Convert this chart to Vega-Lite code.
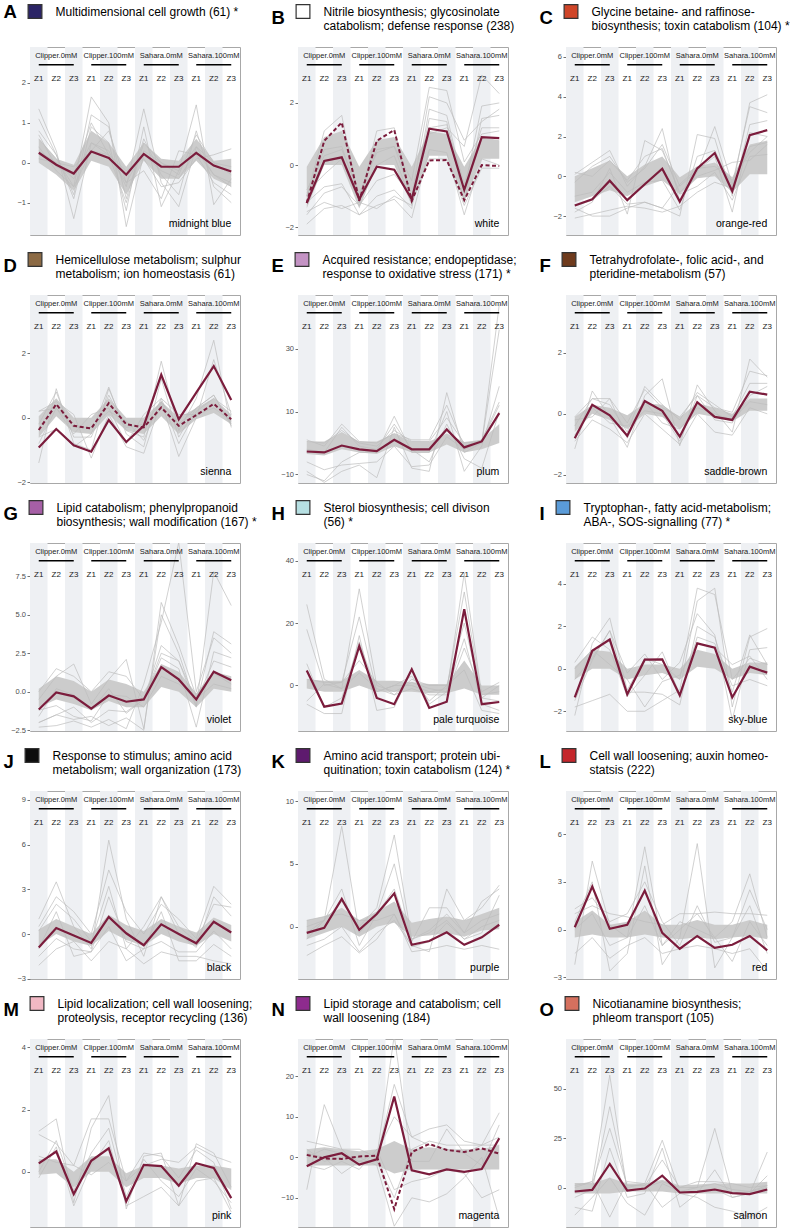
{
"$schema": "https://vega.github.io/schema/vega-lite/v6.json",
"background": "white",
"padding": {"left": 3, "top": 3, "right": 0, "bottom": 0},
"columns": 3,
"spacing": {"row": 60, "column": 58},
"bounds": "flush",
"resolve": {"scale": {"fill": "independent"}, "legend": {"fill": "independent"}},
"datasets": {
"stripes": [{"x":1},{"x":3},{"x":5},{"x":7},{"x":9},{"x":11}],
"grp": [{"g":"Clipper.0mM","c1":1,"c2":2,"c3":3},{"g":"Clipper.100mM","c1":4,"c2":5,"c3":6},{"g":"Sahara.0mM","c1":7,"c2":8,"c3":9},{"g":"Sahara.100mM","c1":10,"c2":11,"c3":12}],
"A": [
{"x":1,"m":0.25,"lo":0,"hi":0.6,"g1":1.35,"g2":0.6,"g3":0.3,"g4":0.8,"g5":0.1,"g6":1.1,"g7":0.4,"g8":0.7},
{"x":2,"m":-0.05,"lo":-0.3,"hi":0.1,"g1":0.3,"g2":0.1,"g3":0,"g4":0.2,"g5":0,"g6":0.2,"g7":-0.2,"g8":-0.1},
{"x":3,"m":-0.27,"lo":-0.7,"hi":-0.05,"g1":-1.4,"g2":-0.6,"g3":-0.4,"g4":-0.9,"g5":-0.1,"g6":-0.8,"g7":-0.6,"g8":-0.3},
{"x":4,"m":0.28,"lo":0.05,"hi":0.8,"g1":0.5,"g2":1.65,"g3":0.5,"g4":0.9,"g5":0.3,"g6":1.2,"g7":0.3,"g8":1.0},
{"x":5,"m":0.12,"lo":-0.1,"hi":0.5,"g1":0.2,"g2":1.0,"g3":0.3,"g4":0.5,"g5":0.2,"g6":0.9,"g7":0.8,"g8":0.2},
{"x":6,"m":-0.3,"lo":-0.8,"hi":-0.1,"g1":-0.5,"g2":-1.6,"g3":-0.6,"g4":-1.2,"g5":-0.2,"g6":-0.9,"g7":-0.5,"g8":-1.0},
{"x":7,"m":0.22,"lo":0.05,"hi":0.5,"g1":0.3,"g2":0.2,"g3":1.35,"g4":0.9,"g5":0.1,"g6":0.6,"g7":-0.2,"g8":0.5},
{"x":8,"m":-0.1,"lo":-0.4,"hi":0.1,"g1":0,"g2":-0.2,"g3":-0.5,"g4":-1.1,"g5":-0.6,"g6":-0.3,"g7":-0.9,"g8":0},
{"x":9,"m":-0.1,"lo":-0.4,"hi":0.05,"g1":-0.2,"g2":-0.4,"g3":-1.1,"g4":-0.2,"g5":-0.5,"g6":-0.8,"g7":0.3,"g8":-0.3},
{"x":10,"m":0.25,"lo":0.05,"hi":0.6,"g1":0.4,"g2":0.3,"g3":0.4,"g4":1.45,"g5":0.1,"g6":0.8,"g7":0.2,"g8":0.7},
{"x":11,"m":-0.07,"lo":-0.4,"hi":0.05,"g1":0,"g2":-0.3,"g3":-0.3,"g4":-1.05,"g5":0.2,"g6":-0.6,"g7":-0.5,"g8":0},
{"x":12,"m":-0.22,"lo":-0.6,"hi":0.1,"g1":-0.3,"g2":-0.5,"g3":-0.6,"g4":-0.4,"g5":0.35,"g6":-1.0,"g7":-0.8,"g8":-0.1}],
"B": [
{"x":1,"m":-1.22,"d":-1.22,"lo":-1.4,"hi":-0.05,"g1":-0.8,"g2":-1.0,"g3":-1.9,"g4":-1.5,"g5":-1.2,"g6":-1.0,"g7":-1.6,"g8":-0.9},
{"x":2,"m":0.13,"d":0.78,"lo":0,"hi":0.9,"g1":0.3,"g2":0.5,"g3":-1.4,"g4":-1.2,"g5":-0.7,"g6":1.1,"g7":-0.9,"g8":-0.3},
{"x":3,"m":0.25,"d":1.37,"lo":0,"hi":1.1,"g1":0.5,"g2":0.6,"g3":-1.3,"g4":-1.4,"g5":-0.6,"g6":1.6,"g7":-0.7,"g8":0.2},
{"x":4,"m":-1.1,"d":-1.15,"lo":-1.4,"hi":-0.05,"g1":-0.9,"g2":-1.0,"g3":-1.6,"g4":-1.2,"g5":-1.6,"g6":-1.2,"g7":-1.3,"g8":-1.2},
{"x":5,"m":-0.05,"d":0.78,"lo":0,"hi":0.8,"g1":0.4,"g2":0.5,"g3":-1.3,"g4":-1.4,"g5":-1.0,"g6":1.1,"g7":-0.5,"g8":0},
{"x":6,"m":-0.15,"d":1.13,"lo":0,"hi":0.9,"g1":0.6,"g2":0.6,"g3":-1.1,"g4":-1.0,"g5":-0.8,"g6":1.2,"g7":-0.3,"g8":0.3},
{"x":7,"m":-1.1,"d":-1.15,"lo":-1.3,"hi":-0.05,"g1":-0.5,"g2":-1.0,"g3":-1.7,"g4":-1.3,"g5":-1.4,"g6":-1.2,"g7":-1.0,"g8":-1.2},
{"x":8,"m":1.17,"d":0.15,"lo":0.3,"hi":1.1,"g1":2.5,"g2":1.0,"g3":0.5,"g4":1.5,"g5":1.8,"g6":0.2,"g7":2.2,"g8":1.2},
{"x":9,"m":1.08,"d":0.16,"lo":0.3,"hi":1.0,"g1":2.4,"g2":1.2,"g3":0.4,"g4":1.4,"g5":1.6,"g6":0.2,"g7":2.0,"g8":1.3},
{"x":10,"m":-0.8,"d":-1.13,"lo":-1.2,"hi":-0.05,"g1":0.1,"g2":0.6,"g3":-1.6,"g4":-1.2,"g5":-0.8,"g6":-1.3,"g7":0.8,"g8":-0.6},
{"x":11,"m":0.9,"d":0,"lo":0.2,"hi":0.9,"g1":1.0,"g2":2.9,"g3":0.2,"g4":1.5,"g5":1.9,"g6":-0.1,"g7":1.4,"g8":1.2},
{"x":12,"m":0.87,"d":-0.03,"lo":0.2,"hi":0.8,"g1":1.1,"g2":2.3,"g3":0,"g4":1.6,"g5":2.0,"g6":-0.1,"g7":1.8,"g8":1.2}],
"C": [
{"x":1,"m":-1.47,"lo":-1.3,"hi":0,"g1":-2.1,"g2":0.1,"g3":-1.6,"g4":-1.8,"g5":-0.3,"g6":-1.0,"g7":-1.5,"g8":0.2},
{"x":2,"m":-1.15,"lo":-1.0,"hi":0.4,"g1":-1.9,"g2":0.7,"g3":-2.0,"g4":-1.3,"g5":0.5,"g6":-0.8,"g7":-1.2,"g8":0},
{"x":3,"m":-0.22,"lo":-0.7,"hi":0.8,"g1":-1.7,"g2":1.3,"g3":-2.0,"g4":0.4,"g5":1.0,"g6":0.2,"g7":-0.5,"g8":0.8},
{"x":4,"m":-1.2,"lo":-1.0,"hi":0,"g1":-1.5,"g2":-0.5,"g3":-1.6,"g4":-1.9,"g5":-0.3,"g6":-0.8,"g7":-1.4,"g8":-0.2},
{"x":5,"m":-0.4,"lo":-0.5,"hi":0.6,"g1":-1.6,"g2":0.5,"g3":-1.3,"g4":1.8,"g5":0.4,"g6":-0.3,"g7":-1.3,"g8":1.0},
{"x":6,"m":0.38,"lo":-0.2,"hi":1.0,"g1":-1.8,"g2":2.4,"g3":-1.6,"g4":1.3,"g5":1.6,"g6":-0.2,"g7":-1.6,"g8":1.4},
{"x":7,"m":-1.27,"lo":-0.9,"hi":-0.05,"g1":-1.5,"g2":-1.3,"g3":-2.0,"g4":-0.8,"g5":-0.5,"g6":-1.7,"g7":-0.4,"g8":-0.9},
{"x":8,"m":0.4,"lo":-0.1,"hi":0.5,"g1":-0.8,"g2":0.2,"g3":2.1,"g4":0,"g5":0.3,"g6":1.0,"g7":0.4,"g8":-0.5},
{"x":9,"m":1.17,"lo":0,"hi":0.7,"g1":-0.3,"g2":2.5,"g3":1.9,"g4":0.3,"g5":1.0,"g6":1.3,"g7":0.5,"g8":0.2},
{"x":10,"m":-0.75,"lo":-0.8,"hi":-0.05,"g1":-0.6,"g2":-0.4,"g3":-1.0,"g4":0.7,"g5":-1.8,"g6":-0.5,"g7":-0.2,"g8":-1.2},
{"x":11,"m":2.07,"lo":0.1,"hi":1.6,"g1":3.7,"g2":3.5,"g3":2.6,"g4":0.8,"g5":2.2,"g6":1.5,"g7":1.2,"g8":1.0},
{"x":12,"m":2.32,"lo":0.1,"hi":1.8,"g1":4.1,"g2":3.2,"g3":2.8,"g4":1.6,"g5":2.0,"g6":1.7,"g7":2.0,"g8":1.1}],
"D": [
{"x":1,"m":-0.92,"d":-0.38,"lo":-0.6,"hi":0.05,"g1":-1.4,"g2":0.2,"g3":-0.6,"g4":0.2,"g5":-0.2,"g6":-0.8},
{"x":2,"m":-0.35,"d":0.42,"lo":0.05,"hi":0.6,"g1":0.9,"g2":0.5,"g3":-0.35,"g4":0.3,"g5":0.8,"g6":0.3},
{"x":3,"m":-0.85,"d":-0.25,"lo":-0.45,"hi":0,"g1":-0.8,"g2":0.1,"g3":-0.9,"g4":-0.5,"g5":-0.6,"g6":-0.3},
{"x":4,"m":-1.05,"d":-0.33,"lo":-0.5,"hi":0,"g1":-1.0,"g2":-1.25,"g3":-0.5,"g4":0.1,"g5":-0.6,"g6":-0.3},
{"x":5,"m":-0.07,"d":0.45,"lo":0.1,"hi":0.6,"g1":0.9,"g2":0.1,"g3":0.95,"g4":0.3,"g5":0.7,"g6":0.2},
{"x":6,"m":-0.75,"d":-0.2,"lo":-0.4,"hi":0,"g1":-0.4,"g2":-0.9,"g3":-0.5,"g4":-0.8,"g5":-0.3,"g6":-0.1},
{"x":7,"m":-0.25,"d":-0.3,"lo":-0.5,"hi":0,"g1":-0.6,"g2":-1.1,"g3":-0.9,"g4":0.1,"g5":-0.2,"g6":-0.7},
{"x":8,"m":1.33,"d":0.32,"lo":0.05,"hi":0.5,"g1":1.75,"g2":0.5,"g3":1.2,"g4":0.6,"g5":0.5,"g6":0.6},
{"x":9,"m":-0.05,"d":-0.25,"lo":-0.5,"hi":0,"g1":-0.4,"g2":-1.2,"g3":-0.6,"g4":-0.8,"g5":-0.2,"g6":0.1},
{"x":10,"m":0.78,"d":0.08,"lo":-0.05,"hi":0.3,"g1":0.6,"g2":0,"g3":0.3,"g4":0.2,"g5":0.3,"g6":0.1},
{"x":11,"m":1.6,"d":0.43,"lo":0.15,"hi":0.6,"g1":2.4,"g2":1.8,"g3":0.7,"g4":0.6,"g5":0.7,"g6":0.3},
{"x":12,"m":0.55,"d":-0.05,"lo":-0.2,"hi":0.1,"g1":-0.3,"g2":0.1,"g3":-0.2,"g4":0.2,"g5":-0.25,"g6":-0.1}],
"E": [
{"x":1,"m":-2.7,"lo":-3.5,"hi":0.5,"g1":-6,"g2":-9,"g3":-10,"g4":1,"g5":-2,"g6":0.5},
{"x":2,"m":-3.0,"lo":-4,"hi":0.5,"g1":-8.5,"g2":-12.5,"g3":-12,"g4":-1,"g5":-3,"g6":0},
{"x":3,"m":-0.8,"lo":-2,"hi":3.5,"g1":-7,"g2":-9,"g3":-6,"g4":6,"g5":5,"g6":4},
{"x":4,"m":-2.0,"lo":-3,"hi":0.5,"g1":-6.5,"g2":-7,"g3":-3,"g4":0.5,"g5":-1,"g6":0},
{"x":5,"m":-2.6,"lo":-3.5,"hi":0.5,"g1":-6,"g2":-11,"g3":-3,"g4":0,"g5":-2,"g6":-1},
{"x":6,"m":1.0,"lo":-1,"hi":3,"g1":-1,"g2":5,"g3":8.5,"g4":3,"g5":6,"g6":4},
{"x":7,"m":-2.0,"lo":-3,"hi":0.5,"g1":-7.5,"g2":-8,"g3":-3,"g4":1,"g5":-2,"g6":0.5},
{"x":8,"m":-2.0,"lo":-3,"hi":0.5,"g1":-7,"g2":-9,"g3":-3,"g4":1,"g5":-6,"g6":0.5},
{"x":9,"m":4.3,"lo":-0.5,"hi":3,"g1":2,"g2":16,"g3":10,"g4":12,"g5":6,"g6":8},
{"x":10,"m":-1.4,"lo":-3,"hi":0.3,"g1":-2,"g2":-3,"g3":-9,"g4":-1,"g5":-5,"g6":0},
{"x":11,"m":0.5,"lo":-2,"hi":1,"g1":0,"g2":0,"g3":-1,"g4":1,"g5":-8,"g6":0.5},
{"x":12,"m":9.5,"lo":0,"hi":6,"g1":44,"g2":36,"g3":18,"g4":13,"g5":10,"g6":12}],
"F": [
{"x":1,"m":-0.8,"lo":-0.6,"hi":-0.1,"g1":-1.15,"g2":-0.1,"g3":-0.9,"g4":-0.4,"g5":-0.7,"g6":-0.2},
{"x":2,"m":0.3,"lo":0,"hi":0.3,"g1":0.75,"g2":0.5,"g3":-0.2,"g4":0.5,"g5":0.2,"g6":-0.1},
{"x":3,"m":-0.05,"lo":-0.2,"hi":0.2,"g1":-0.1,"g2":0.5,"g3":-0.5,"g4":0.3,"g5":-0.3,"g6":0.5},
{"x":4,"m":-0.72,"lo":-0.5,"hi":-0.05,"g1":-1.1,"g2":-0.3,"g3":-0.95,"g4":-0.6,"g5":-0.4,"g6":-0.8},
{"x":5,"m":0.42,"lo":0,"hi":0.35,"g1":0.6,"g2":0.8,"g3":0,"g4":0.9,"g5":0.1,"g6":0.4},
{"x":6,"m":0.1,"lo":-0.1,"hi":0.3,"g1":1.15,"g2":0.2,"g3":-0.5,"g4":0.3,"g5":0,"g6":-0.3},
{"x":7,"m":-0.75,"lo":-0.5,"hi":-0.1,"g1":-1.05,"g2":-0.1,"g3":-1.0,"g4":-0.2,"g5":-0.9,"g6":-0.5},
{"x":8,"m":0.38,"lo":0,"hi":0.35,"g1":0.95,"g2":0.6,"g3":0,"g4":0.7,"g5":0.6,"g6":0.2},
{"x":9,"m":-0.1,"lo":-0.1,"hi":0.2,"g1":0.1,"g2":0.2,"g3":-0.6,"g4":0.3,"g5":-0.2,"g6":0},
{"x":10,"m":-0.2,"lo":-0.25,"hi":0,"g1":-0.6,"g2":0.05,"g3":-0.7,"g4":-0.1,"g5":-0.3,"g6":-0.2},
{"x":11,"m":0.73,"lo":0.1,"hi":0.5,"g1":1.8,"g2":1.4,"g3":0.2,"g4":1.0,"g5":0.6,"g6":0.4},
{"x":12,"m":0.63,"lo":0.1,"hi":0.5,"g1":1.2,"g2":1.25,"g3":0,"g4":1.0,"g5":0.9,"g6":0.3}],
"G": [
{"x":1,"m":-1.15,"lo":-1.0,"hi":0.2,"g1":-2.0,"g2":-2.3,"g3":0,"g4":-0.5,"g5":-1.6,"g6":-1.2,"g7":-2.0},
{"x":2,"m":-0.05,"lo":-0.5,"hi":1.0,"g1":-1.5,"g2":-2.2,"g3":1.5,"g4":1.0,"g5":0.2,"g6":-0.9,"g7":-1.5},
{"x":3,"m":-0.3,"lo":-0.8,"hi":0.7,"g1":-1.8,"g2":-1.9,"g3":1.0,"g4":1.8,"g5":-0.2,"g6":-1.6,"g7":-1.0},
{"x":4,"m":-1.1,"lo":-1.2,"hi":0,"g1":-1.6,"g2":-2.3,"g3":0,"g4":-0.8,"g5":-1.2,"g6":-1.9,"g7":-2.0},
{"x":5,"m":-0.25,"lo":-0.6,"hi":0.8,"g1":-2.2,"g2":-1.8,"g3":1.3,"g4":0.8,"g5":0.2,"g6":-0.2,"g7":-1.2},
{"x":6,"m":-0.65,"lo":-1.0,"hi":0.5,"g1":-1.7,"g2":-2.4,"g3":1.0,"g4":2.1,"g5":-1.4,"g6":-0.3,"g7":-1.3},
{"x":7,"m":-0.5,"lo":-1.0,"hi":0,"g1":-2.5,"g2":0.5,"g3":-0.5,"g4":-2.4,"g5":-0.5,"g6":-1.0,"g7":-0.5},
{"x":8,"m":1.6,"lo":0.3,"hi":1.8,"g1":5.8,"g2":4.5,"g3":3.0,"g4":5.0,"g5":2.2,"g6":1.0,"g7":2.5},
{"x":9,"m":0.8,"lo":0,"hi":1.3,"g1":3.0,"g2":9.7,"g3":2.0,"g4":2.5,"g5":1.5,"g6":0.5,"g7":2.0},
{"x":10,"m":-0.5,"lo":-1.0,"hi":-0.1,"g1":-0.3,"g2":0,"g3":-1.0,"g4":-0.9,"g5":-2.3,"g6":-0.5,"g7":-0.6},
{"x":11,"m":1.3,"lo":0.2,"hi":1.3,"g1":1.2,"g2":3.5,"g3":7.8,"g4":3.9,"g5":2.6,"g6":0.5,"g7":2.0},
{"x":12,"m":0.75,"lo":0,"hi":1.0,"g1":0.5,"g2":2.5,"g3":5.6,"g4":3.1,"g5":2.2,"g6":0.2,"g7":1.6}],
"H": [
{"x":1,"m":4.8,"lo":-1,"hi":2,"g1":26,"g2":18,"g3":-6,"g4":2,"g5":-5,"g6":7},
{"x":2,"m":-6.8,"lo":-2,"hi":1.5,"g1":2,"g2":0,"g3":-9,"g4":1,"g5":0.5,"g6":-7},
{"x":3,"m":-5.8,"lo":-2,"hi":1.5,"g1":-1,"g2":1,"g3":-9,"g4":1,"g5":-1,"g6":-4},
{"x":4,"m":12.6,"lo":0,"hi":5,"g1":31,"g2":22,"g3":16,"g4":8,"g5":4,"g6":14},
{"x":5,"m":-4.0,"lo":-2,"hi":1.5,"g1":0,"g2":-2,"g3":-8,"g4":1,"g5":-1,"g6":-2},
{"x":6,"m":-6.0,"lo":-2,"hi":1.5,"g1":-2,"g2":0,"g3":-7,"g4":-3,"g5":-3,"g6":0},
{"x":7,"m":5.2,"lo":-2,"hi":1,"g1":1,"g2":0,"g3":5,"g4":2,"g5":-1,"g6":3},
{"x":8,"m":-7.2,"lo":-2.5,"hi":0.5,"g1":-1,"g2":-2,"g3":-6,"g4":0,"g5":-3,"g6":-5},
{"x":9,"m":-5.2,"lo":-2.5,"hi":0.5,"g1":-2,"g2":-1,"g3":-2,"g4":0,"g5":-3,"g6":0},
{"x":10,"m":24.5,"lo":-1,"hi":8,"g1":36,"g2":30,"g3":15,"g4":5,"g5":12,"g6":20},
{"x":11,"m":-6.0,"lo":-3,"hi":0,"g1":-3,"g2":-4,"g3":-6,"g4":-8,"g5":-2,"g6":-4},
{"x":12,"m":-5.3,"lo":-3,"hi":0,"g1":-2,"g2":-5,"g3":-8,"g4":-9,"g5":1,"g6":0}],
"I": [
{"x":1,"m":-1.35,"lo":-0.5,"hi":0.1,"g1":-2.2,"g2":-1.8,"g3":-1.5,"g4":0.3,"g5":-0.5,"g6":0},
{"x":2,"m":0.85,"lo":0,"hi":0.9,"g1":1.2,"g2":-1.5,"g3":0.4,"g4":1.5,"g5":0.5,"g6":0.9},
{"x":3,"m":1.38,"lo":0,"hi":0.8,"g1":2.4,"g2":-1.2,"g3":1.8,"g4":0.9,"g5":1.8,"g6":0.2},
{"x":4,"m":-1.2,"lo":-0.5,"hi":0,"g1":-1.0,"g2":-2.0,"g3":-1.1,"g4":-1.3,"g5":-0.2,"g6":-0.5},
{"x":5,"m":0.43,"lo":-0.3,"hi":0.2,"g1":0.5,"g2":-2.0,"g3":-1.1,"g4":-0.3,"g5":0.7,"g6":-1.8},
{"x":6,"m":0.45,"lo":-0.2,"hi":0.2,"g1":0.2,"g2":-1.5,"g3":-1.2,"g4":0.8,"g5":-0.5,"g6":-0.6},
{"x":7,"m":-1.25,"lo":-0.5,"hi":0,"g1":-0.5,"g2":-1.0,"g3":-1.7,"g4":-1.2,"g5":0.3,"g6":-0.3},
{"x":8,"m":1.2,"lo":0.1,"hi":0.9,"g1":3.8,"g2":3.2,"g3":2.0,"g4":1.5,"g5":2.6,"g6":1.2},
{"x":9,"m":1.0,"lo":0,"hi":0.7,"g1":3.5,"g2":3.8,"g3":1.5,"g4":1.2,"g5":1.6,"g6":1.0},
{"x":10,"m":-1.35,"lo":-0.5,"hi":0,"g1":-0.5,"g2":-1.8,"g3":-1.1,"g4":-0.8,"g5":-2.4,"g6":0.2},
{"x":11,"m":0.1,"lo":-0.2,"hi":0.3,"g1":0.5,"g2":1.5,"g3":1.6,"g4":-0.5,"g5":0.9,"g6":0.6},
{"x":12,"m":-0.18,"lo":-0.3,"hi":0.3,"g1":0.2,"g2":1.9,"g3":0.2,"g4":-0.8,"g5":1.0,"g6":-0.5}],
"J": [
{"x":1,"m":-0.9,"lo":-0.8,"hi":0.3,"g1":1.0,"g2":0.5,"g3":-2.1,"g4":-1.0,"g5":0.2,"g6":-1.5},
{"x":2,"m":0.4,"lo":0,"hi":1.0,"g1":3.5,"g2":2.5,"g3":-1.0,"g4":1.5,"g5":2.0,"g6":-0.3},
{"x":3,"m":-0.1,"lo":-0.5,"hi":0.5,"g1":0.5,"g2":1.5,"g3":-0.5,"g4":-1.5,"g5":1.0,"g6":-1.0},
{"x":4,"m":-0.6,"lo":-0.8,"hi":0,"g1":-1.0,"g2":0,"g3":-1.8,"g4":-1.2,"g5":-0.5,"g6":-1.2},
{"x":5,"m":1.15,"lo":0.2,"hi":1.3,"g1":6.3,"g2":4.3,"g3":-0.5,"g4":2.5,"g5":3.2,"g6":0.5},
{"x":6,"m":0.05,"lo":-0.4,"hi":0.6,"g1":1.0,"g2":1.5,"g3":-1.0,"g4":-0.5,"g5":-1.0,"g6":-1.8},
{"x":7,"m":-0.75,"lo":-0.8,"hi":0.2,"g1":-1.5,"g2":0,"g3":-2.0,"g4":-1.0,"g5":0.5,"g6":-1.0},
{"x":8,"m":0.65,"lo":0,"hi":1.0,"g1":2.5,"g2":2.0,"g3":-1.2,"g4":1.5,"g5":2.5,"g6":-0.5},
{"x":9,"m":0,"lo":-0.5,"hi":0.5,"g1":0.5,"g2":1.0,"g3":-1.5,"g4":-1.8,"g5":0,"g6":-1.2},
{"x":10,"m":-0.62,"lo":-0.8,"hi":0.1,"g1":-0.5,"g2":-0.3,"g3":-1.5,"g4":-1.8,"g5":-0.9,"g6":-1.2},
{"x":11,"m":0.82,"lo":0,"hi":1.1,"g1":2.0,"g2":3.2,"g3":-1.8,"g4":-0.7,"g5":2.5,"g6":0.2},
{"x":12,"m":0.1,"lo":-0.5,"hi":0.6,"g1":1.8,"g2":2.0,"g3":-2.0,"g4":-1.5,"g5":1.2,"g6":-1.0}],
"K": [
{"x":1,"m":-0.5,"lo":-1.0,"hi":0.5,"g1":0,"g2":-0.5,"g3":-1.5,"g4":-2.3,"g5":-1.0,"g6":0.5},
{"x":2,"m":-0.1,"lo":-0.5,"hi":0.8,"g1":0.5,"g2":0.5,"g3":-1.0,"g4":-1.5,"g5":0.5,"g6":0.8},
{"x":3,"m":2.2,"lo":0,"hi":1.5,"g1":8.0,"g2":2.0,"g3":0,"g4":-0.8,"g5":3.0,"g6":1.0},
{"x":4,"m":-0.25,"lo":-0.8,"hi":0.5,"g1":-0.5,"g2":0,"g3":-2.0,"g4":-2.1,"g5":-1.5,"g6":0.5},
{"x":5,"m":1.0,"lo":0,"hi":1.2,"g1":1.0,"g2":1.5,"g3":-0.5,"g4":-1.0,"g5":1.0,"g6":0.5},
{"x":6,"m":2.65,"lo":0.3,"hi":2.0,"g1":3.0,"g2":7.3,"g3":0.5,"g4":1.0,"g5":5.0,"g6":1.0},
{"x":7,"m":-1.45,"lo":-0.8,"hi":0.3,"g1":-1.0,"g2":-1.0,"g3":-1.5,"g4":-2.0,"g5":-1.2,"g6":-1.6},
{"x":8,"m":-1.15,"lo":-0.7,"hi":0.6,"g1":-0.5,"g2":-0.3,"g3":-2.0,"g4":-1.8,"g5":1.5,"g6":-1.2},
{"x":9,"m":-0.45,"lo":-0.5,"hi":0.8,"g1":0.5,"g2":1.0,"g3":3.0,"g4":-1.5,"g5":1.5,"g6":0.3},
{"x":10,"m":-1.45,"lo":-0.8,"hi":0.5,"g1":-1.0,"g2":-0.5,"g3":0.5,"g4":-1.8,"g5":-0.5,"g6":-1.0},
{"x":11,"m":-0.85,"lo":-0.3,"hi":1.0,"g1":0,"g2":0.5,"g3":1.5,"g4":-1.5,"g5":2.0,"g6":-0.5},
{"x":12,"m":0.15,"lo":-0.2,"hi":1.5,"g1":0.5,"g2":1.0,"g3":3.3,"g4":-1.8,"g5":3.0,"g6":2.5}],
"L": [
{"x":1,"m":0.15,"lo":-0.5,"hi":0.5,"g1":-2.2,"g2":0.5,"g3":1.0,"g4":-1.5,"g5":1.3,"g6":0},
{"x":2,"m":2.7,"lo":-0.3,"hi":1.2,"g1":4.3,"g2":3.0,"g3":1.5,"g4":-0.5,"g5":2.0,"g6":1.0},
{"x":3,"m":0.05,"lo":-0.5,"hi":0.3,"g1":0.3,"g2":-2.6,"g3":1.0,"g4":-1.8,"g5":0.5,"g6":-1.0},
{"x":4,"m":0.3,"lo":-0.5,"hi":0.5,"g1":-0.5,"g2":-1.5,"g3":0.8,"g4":-1.0,"g5":1.0,"g6":-0.5},
{"x":5,"m":2.45,"lo":-0.3,"hi":1.2,"g1":5.2,"g2":4.0,"g3":0.5,"g4":-0.5,"g5":3.0,"g6":1.5},
{"x":6,"m":-0.2,"lo":-0.5,"hi":0.3,"g1":-1.0,"g2":-2.2,"g3":0.3,"g4":-1.5,"g5":0.5,"g6":-1.0},
{"x":7,"m":-1.2,"lo":-0.6,"hi":0.3,"g1":0,"g2":-0.5,"g3":1.0,"g4":-1.2,"g5":-1.0,"g6":0.5},
{"x":8,"m":-0.4,"lo":-0.5,"hi":0.6,"g1":1.0,"g2":5.4,"g3":1.0,"g4":-1.0,"g5":1.5,"g6":0},
{"x":9,"m":-1.15,"lo":-0.6,"hi":0.3,"g1":-0.5,"g2":-2.4,"g3":1.1,"g4":-1.2,"g5":-0.8,"g6":-0.5},
{"x":10,"m":-0.95,"lo":-0.5,"hi":0.3,"g1":0.5,"g2":-0.5,"g3":1.0,"g4":-1.5,"g5":-0.5,"g6":-2.0},
{"x":11,"m":-0.4,"lo":-0.4,"hi":0.6,"g1":3.5,"g2":1.5,"g3":1.0,"g4":-1.2,"g5":2.5,"g6":0.5},
{"x":12,"m":-1.3,"lo":-0.6,"hi":0.3,"g1":-0.5,"g2":-1.5,"g3":0.9,"g4":-2.6,"g5":0,"g6":-1.0}],
"M": [
{"x":1,"m":0.27,"lo":-0.1,"hi":0.4,"g1":1.3,"g2":1.2,"g3":-0.2,"g4":0.5,"g5":0},
{"x":2,"m":0.65,"lo":-0.05,"hi":0.4,"g1":1.7,"g2":0.9,"g3":0.8,"g4":0.3,"g5":1.0},
{"x":3,"m":-0.72,"lo":-0.5,"hi":0,"g1":-1.0,"g2":0.2,"g3":-1.1,"g4":0.2,"g5":-0.6},
{"x":4,"m":0.35,"lo":0,"hi":0.5,"g1":1.4,"g2":1.7,"g3":0.2,"g4":-0.1,"g5":0.6},
{"x":5,"m":0.75,"lo":0,"hi":0.5,"g1":2.45,"g2":1.7,"g3":1.0,"g4":0.3,"g5":1.4},
{"x":6,"m":-0.95,"lo":-0.5,"hi":-0.05,"g1":-1.2,"g2":-0.3,"g3":-1.1,"g4":-0.3,"g5":-0.8},
{"x":7,"m":0.22,"lo":-0.2,"hi":0.2,"g1":0.5,"g2":0.6,"g3":-0.8,"g4":0.2,"g5":0.4},
{"x":8,"m":0.18,"lo":-0.2,"hi":0.2,"g1":0.6,"g2":0.5,"g3":-0.5,"g4":0.4,"g5":-0.3},
{"x":9,"m":-0.45,"lo":-0.4,"hi":0.1,"g1":-1.1,"g2":-0.2,"g3":-1.1,"g4":0.3,"g5":-0.8},
{"x":10,"m":0.27,"lo":-0.2,"hi":0.2,"g1":0.9,"g2":0.7,"g3":-0.3,"g4":0.8,"g5":0.1},
{"x":11,"m":0.12,"lo":-0.2,"hi":0.2,"g1":0.6,"g2":0.3,"g3":-0.2,"g4":0.5,"g5":-0.3},
{"x":12,"m":-0.85,"lo":-0.6,"hi":0.1,"g1":-0.5,"g2":-1.2,"g3":-1.3,"g4":0.3,"g5":-1.0}],
"N": [
{"x":1,"m":-2.2,"d":0.6,"lo":-2,"hi":2,"g1":-8,"g2":4,"g3":2,"g4":-2,"g5":1,"g6":0},
{"x":2,"m":0,"d":-0.3,"lo":-2,"hi":2.5,"g1":13,"g2":3,"g3":-1,"g4":-3,"g5":0,"g6":2},
{"x":3,"m":1.0,"d":-0.4,"lo":-2,"hi":2,"g1":2,"g2":2,"g3":0,"g4":-1,"g5":-4,"g6":1},
{"x":4,"m":-1.8,"d":0.2,"lo":-2,"hi":1.5,"g1":-2,"g2":2,"g3":0,"g4":-3,"g5":-1,"g6":-1},
{"x":5,"m":-0.5,"d":0.4,"lo":-2,"hi":2,"g1":0,"g2":0,"g3":-2,"g4":2,"g5":1,"g6":-1},
{"x":6,"m":15.0,"d":-12.8,"lo":-4,"hi":4,"g1":18,"g2":30,"g3":-17,"g4":-8,"g5":10,"g6":-10},
{"x":7,"m":-3.2,"d":1.3,"lo":-3,"hi":2,"g1":5,"g2":-1,"g3":-10,"g4":-6,"g5":5,"g6":2},
{"x":8,"m":-4.2,"d":3.3,"lo":-3,"hi":2.5,"g1":3,"g2":-1,"g3":-11,"g4":-5,"g5":7,"g6":4},
{"x":9,"m":-3.0,"d":1.8,"lo":-3,"hi":2,"g1":2,"g2":7,"g3":-9,"g4":-3,"g5":8,"g6":3},
{"x":10,"m":-3.6,"d":1.3,"lo":-3,"hi":2,"g1":1,"g2":1,"g3":-5,"g4":-4,"g5":4,"g6":3},
{"x":11,"m":-2.9,"d":2.2,"lo":-3,"hi":2,"g1":3,"g2":-2,"g3":0,"g4":-10,"g5":3,"g6":3},
{"x":12,"m":4.7,"d":0.9,"lo":-3,"hi":3,"g1":11,"g2":8,"g3":-15,"g4":-8,"g5":5,"g6":3}],
"O": [
{"x":1,"m":-2.0,"lo":-3,"hi":2,"g1":0,"g2":-5,"g3":-10,"g4":1,"g5":-14,"g6":2},
{"x":2,"m":-1.2,"lo":-3,"hi":2,"g1":3,"g2":-1,"g3":-12,"g4":3,"g5":-5,"g6":2},
{"x":3,"m":12,"lo":-3,"hi":5,"g1":57,"g2":41,"g3":20,"g4":-15,"g5":5,"g6":30},
{"x":4,"m":-1.5,"lo":-2,"hi":2,"g1":-2,"g2":0,"g3":-5,"g4":3,"g5":-8,"g6":1},
{"x":5,"m":-0.5,"lo":-2,"hi":2,"g1":0,"g2":2,"g3":-3,"g4":2,"g5":-14,"g6":1},
{"x":6,"m":6,"lo":-2,"hi":4,"g1":3,"g2":24,"g3":20,"g4":-10,"g5":2,"g6":14},
{"x":7,"m":-2.5,"lo":-3,"hi":1,"g1":0,"g2":-2,"g3":-10,"g4":-3,"g5":-2,"g6":0},
{"x":8,"m":-2.2,"lo":-3,"hi":1.5,"g1":0,"g2":0,"g3":-3,"g4":-5,"g5":-2,"g6":3},
{"x":9,"m":-1.0,"lo":-3,"hi":2,"g1":2,"g2":30,"g3":9,"g4":-10,"g5":-1,"g6":3},
{"x":10,"m":-2.8,"lo":-3,"hi":2,"g1":-1,"g2":-3,"g3":-5,"g4":-12,"g5":-5,"g6":2},
{"x":11,"m":-3.3,"lo":-3,"hi":2,"g1":-2,"g2":-2,"g3":-3,"g4":-15,"g5":-3,"g6":0},
{"x":12,"m":-1.0,"lo":-3,"hi":3,"g1":1,"g2":0,"g3":18,"g4":-10,"g5":6,"g6":1}]
},
"concat": [
{"width":210,"height":188,"data":{"name":"A"},"layer":[
{"data":{"name":"stripes"},"mark":{"type":"rect","color":"#eef0f3"},"encoding":{"x":{"field":"x","type":"ordinal","title":null,"scale":{"domain":[1,2,3,4,5,6,7,8,9,10,11,12],"paddingInner":0,"paddingOuter":0},"axis":{"orient":"top","offset":-35,"labelExpr":"'Z' + ((datum.value - 1) % 3 + 1)"}}}},
{"mark":{"type":"area","color":"#cccccc"},"encoding":{"x":{"field":"x","type":"ordinal","title":null,"scale":{"domain":[1,2,3,4,5,6,7,8,9,10,11,12]}},"y":{"field":"lo","type":"quantitative","title":null,"scale":{"domain":[-1.81,2.9],"nice":false,"zero":false},"axis":{"values":[-1,0,1,2]}},"y2":{"field":"hi"}}},
{"transform":[{"fold":["g1","g2","g3","g4","g5","g6","g7","g8"]}],"mark":{"type":"line","color":"#bdbdbd","strokeWidth":0.7,"clip":true},"encoding":{"x":{"field":"x","type":"ordinal","title":null,"scale":{"domain":[1,2,3,4,5,6,7,8,9,10,11,12]}},"y":{"field":"value","type":"quantitative","title":null},"detail":{"field":"key","type":"nominal"}}},
{"mark":{"type":"line","color":"#7b1c3c","strokeWidth":2.2,"clip":true},"encoding":{"x":{"field":"x","type":"ordinal","title":null,"scale":{"domain":[1,2,3,4,5,6,7,8,9,10,11,12]}},"y":{"field":"m","type":"quantitative","title":null}}},
{"data":{"name":"grp"},"mark":{"type":"text","fontSize":7.5,"color":"#1a1a1a"},"encoding":{"x":{"field":"c2","type":"ordinal","title":null,"scale":{"domain":[1,2,3,4,5,6,7,8,9,10,11,12]}},"y":{"datum":2.686},"text":{"field":"g"}}},
{"data":{"name":"grp"},"mark":{"type":"rule","strokeWidth":1.6,"color":"#000000"},"encoding":{"x":{"field":"c1","type":"ordinal","title":null,"scale":{"domain":[1,2,3,4,5,6,7,8,9,10,11,12]}},"x2":{"field":"c3"},"y":{"datum":2.454}}},
{"data":{"values":[{"t":"midnight blue"}]},"mark":{"type":"text","fontSize":10.5,"align":"right","baseline":"alphabetic","dy":-8},"encoding":{"x":{"datum":12,"type":"ordinal","scale":{"domain":[1,2,3,4,5,6,7,8,9,10,11,12]}},"y":{"datum":-1.81},"text":{"field":"t"}}},
{"data":{"values":[{"t":"Multidimensional cell growth (61) *"}]},"mark":{"type":"square","opacity":0},"encoding":{"fill":{"field":"t","type":"nominal","scale":{"range":["#2b2466"]},"legend":{"title":"A","labelExpr":"split(datum.label, '|')","symbolOpacity":1,"symbolStrokeColor":"#333333","symbolStrokeWidth":1.2,"legendX":-26.5,"legendY":-43}}}}
]},
{"width":210,"height":188,"data":{"name":"B"},"layer":[
{"data":{"name":"stripes"},"mark":{"type":"rect","color":"#eef0f3"},"encoding":{"x":{"field":"x","type":"ordinal","title":null,"scale":{"domain":[1,2,3,4,5,6,7,8,9,10,11,12],"paddingInner":0,"paddingOuter":0},"axis":{"orient":"top","offset":-35,"labelExpr":"'Z' + ((datum.value - 1) % 3 + 1)"}}}},
{"mark":{"type":"area","color":"#cccccc"},"encoding":{"x":{"field":"x","type":"ordinal","title":null,"scale":{"domain":[1,2,3,4,5,6,7,8,9,10,11,12]}},"y":{"field":"lo","type":"quantitative","title":null,"scale":{"domain":[-2.25,3.8],"nice":false,"zero":false},"axis":{"values":[-2,0,2]}},"y2":{"field":"hi"}}},
{"transform":[{"fold":["g1","g2","g3","g4","g5","g6","g7","g8"]}],"mark":{"type":"line","color":"#bdbdbd","strokeWidth":0.7,"clip":true},"encoding":{"x":{"field":"x","type":"ordinal","title":null,"scale":{"domain":[1,2,3,4,5,6,7,8,9,10,11,12]}},"y":{"field":"value","type":"quantitative","title":null},"detail":{"field":"key","type":"nominal"}}},
{"mark":{"type":"line","color":"#7b1c3c","strokeWidth":2,"strokeDash":[4,2.5],"clip":true},"encoding":{"x":{"field":"x","type":"ordinal","title":null,"scale":{"domain":[1,2,3,4,5,6,7,8,9,10,11,12]}},"y":{"field":"d","type":"quantitative","title":null}}},
{"mark":{"type":"line","color":"#7b1c3c","strokeWidth":2.2,"clip":true},"encoding":{"x":{"field":"x","type":"ordinal","title":null,"scale":{"domain":[1,2,3,4,5,6,7,8,9,10,11,12]}},"y":{"field":"m","type":"quantitative","title":null}}},
{"data":{"name":"grp"},"mark":{"type":"text","fontSize":7.5,"color":"#1a1a1a"},"encoding":{"x":{"field":"c2","type":"ordinal","title":null,"scale":{"domain":[1,2,3,4,5,6,7,8,9,10,11,12]}},"y":{"datum":3.525},"text":{"field":"g"}}},
{"data":{"name":"grp"},"mark":{"type":"rule","strokeWidth":1.6,"color":"#000000"},"encoding":{"x":{"field":"c1","type":"ordinal","title":null,"scale":{"domain":[1,2,3,4,5,6,7,8,9,10,11,12]}},"x2":{"field":"c3"},"y":{"datum":3.227}}},
{"data":{"values":[{"t":"white"}]},"mark":{"type":"text","fontSize":10.5,"align":"right","baseline":"alphabetic","dy":-8},"encoding":{"x":{"datum":12,"type":"ordinal","scale":{"domain":[1,2,3,4,5,6,7,8,9,10,11,12]}},"y":{"datum":-2.25},"text":{"field":"t"}}},
{"data":{"values":[{"t":"Nitrile biosynthesis; glycosinolate|catabolism; defense response (238)"}]},"mark":{"type":"square","opacity":0},"encoding":{"fill":{"field":"t","type":"nominal","scale":{"range":["#ffffff"]},"legend":{"title":"B","labelExpr":"split(datum.label, '|')","symbolOpacity":1,"symbolStrokeColor":"#333333","symbolStrokeWidth":1.2,"legendX":-26.5,"legendY":-43}}}}
]},
{"width":210,"height":188,"data":{"name":"C"},"layer":[
{"data":{"name":"stripes"},"mark":{"type":"rect","color":"#eef0f3"},"encoding":{"x":{"field":"x","type":"ordinal","title":null,"scale":{"domain":[1,2,3,4,5,6,7,8,9,10,11,12],"paddingInner":0,"paddingOuter":0},"axis":{"orient":"top","offset":-35,"labelExpr":"'Z' + ((datum.value - 1) % 3 + 1)"}}}},
{"mark":{"type":"area","color":"#cccccc"},"encoding":{"x":{"field":"x","type":"ordinal","title":null,"scale":{"domain":[1,2,3,4,5,6,7,8,9,10,11,12]}},"y":{"field":"lo","type":"quantitative","title":null,"scale":{"domain":[-2.95,6.5],"nice":false,"zero":false},"axis":{"values":[-2,0,2,4,6]}},"y2":{"field":"hi"}}},
{"transform":[{"fold":["g1","g2","g3","g4","g5","g6","g7","g8"]}],"mark":{"type":"line","color":"#bdbdbd","strokeWidth":0.7,"clip":true},"encoding":{"x":{"field":"x","type":"ordinal","title":null,"scale":{"domain":[1,2,3,4,5,6,7,8,9,10,11,12]}},"y":{"field":"value","type":"quantitative","title":null},"detail":{"field":"key","type":"nominal"}}},
{"mark":{"type":"line","color":"#7b1c3c","strokeWidth":2.2,"clip":true},"encoding":{"x":{"field":"x","type":"ordinal","title":null,"scale":{"domain":[1,2,3,4,5,6,7,8,9,10,11,12]}},"y":{"field":"m","type":"quantitative","title":null}}},
{"data":{"name":"grp"},"mark":{"type":"text","fontSize":7.5,"color":"#1a1a1a"},"encoding":{"x":{"field":"c2","type":"ordinal","title":null,"scale":{"domain":[1,2,3,4,5,6,7,8,9,10,11,12]}},"y":{"datum":6.07},"text":{"field":"g"}}},
{"data":{"name":"grp"},"mark":{"type":"rule","strokeWidth":1.6,"color":"#000000"},"encoding":{"x":{"field":"c1","type":"ordinal","title":null,"scale":{"domain":[1,2,3,4,5,6,7,8,9,10,11,12]}},"x2":{"field":"c3"},"y":{"datum":5.606}}},
{"data":{"values":[{"t":"orange-red"}]},"mark":{"type":"text","fontSize":10.5,"align":"right","baseline":"alphabetic","dy":-8},"encoding":{"x":{"datum":12,"type":"ordinal","scale":{"domain":[1,2,3,4,5,6,7,8,9,10,11,12]}},"y":{"datum":-2.95},"text":{"field":"t"}}},
{"data":{"values":[{"t":"Glycine betaine- and raffinose-|biosynthesis; toxin catabolism (104) *"}]},"mark":{"type":"square","opacity":0},"encoding":{"fill":{"field":"t","type":"nominal","scale":{"range":["#cf4528"]},"legend":{"title":"C","labelExpr":"split(datum.label, '|')","symbolOpacity":1,"symbolStrokeColor":"#333333","symbolStrokeWidth":1.2,"legendX":-26.5,"legendY":-43}}}}
]},
{"width":210,"height":188,"data":{"name":"D"},"layer":[
{"data":{"name":"stripes"},"mark":{"type":"rect","color":"#eef0f3"},"encoding":{"x":{"field":"x","type":"ordinal","title":null,"scale":{"domain":[1,2,3,4,5,6,7,8,9,10,11,12],"paddingInner":0,"paddingOuter":0},"axis":{"orient":"top","offset":-35,"labelExpr":"'Z' + ((datum.value - 1) % 3 + 1)"}}}},
{"mark":{"type":"area","color":"#cccccc"},"encoding":{"x":{"field":"x","type":"ordinal","title":null,"scale":{"domain":[1,2,3,4,5,6,7,8,9,10,11,12]}},"y":{"field":"lo","type":"quantitative","title":null,"scale":{"domain":[-2.02,3.8],"nice":false,"zero":false},"axis":{"values":[-2,-1,0,1,2,3]}},"y2":{"field":"hi"}}},
{"transform":[{"fold":["g1","g2","g3","g4","g5","g6"]}],"mark":{"type":"line","color":"#bdbdbd","strokeWidth":0.7,"clip":true},"encoding":{"x":{"field":"x","type":"ordinal","title":null,"scale":{"domain":[1,2,3,4,5,6,7,8,9,10,11,12]}},"y":{"field":"value","type":"quantitative","title":null},"detail":{"field":"key","type":"nominal"}}},
{"mark":{"type":"line","color":"#7b1c3c","strokeWidth":2,"strokeDash":[4,2.5],"clip":true},"encoding":{"x":{"field":"x","type":"ordinal","title":null,"scale":{"domain":[1,2,3,4,5,6,7,8,9,10,11,12]}},"y":{"field":"d","type":"quantitative","title":null}}},
{"mark":{"type":"line","color":"#7b1c3c","strokeWidth":2.2,"clip":true},"encoding":{"x":{"field":"x","type":"ordinal","title":null,"scale":{"domain":[1,2,3,4,5,6,7,8,9,10,11,12]}},"y":{"field":"m","type":"quantitative","title":null}}},
{"data":{"name":"grp"},"mark":{"type":"text","fontSize":7.5,"color":"#1a1a1a"},"encoding":{"x":{"field":"c2","type":"ordinal","title":null,"scale":{"domain":[1,2,3,4,5,6,7,8,9,10,11,12]}},"y":{"datum":3.535},"text":{"field":"g"}}},
{"data":{"name":"grp"},"mark":{"type":"rule","strokeWidth":1.6,"color":"#000000"},"encoding":{"x":{"field":"c1","type":"ordinal","title":null,"scale":{"domain":[1,2,3,4,5,6,7,8,9,10,11,12]}},"x2":{"field":"c3"},"y":{"datum":3.249}}},
{"data":{"values":[{"t":"sienna"}]},"mark":{"type":"text","fontSize":10.5,"align":"right","baseline":"alphabetic","dy":-8},"encoding":{"x":{"datum":12,"type":"ordinal","scale":{"domain":[1,2,3,4,5,6,7,8,9,10,11,12]}},"y":{"datum":-2.02},"text":{"field":"t"}}},
{"data":{"values":[{"t":"Hemicellulose metabolism; sulphur|metabolism; ion homeostasis (61)"}]},"mark":{"type":"square","opacity":0},"encoding":{"fill":{"field":"t","type":"nominal","scale":{"range":["#8c6a44"]},"legend":{"title":"D","labelExpr":"split(datum.label, '|')","symbolOpacity":1,"symbolStrokeColor":"#333333","symbolStrokeWidth":1.2,"legendX":-26.5,"legendY":-43}}}}
]},
{"width":210,"height":188,"data":{"name":"E"},"layer":[
{"data":{"name":"stripes"},"mark":{"type":"rect","color":"#eef0f3"},"encoding":{"x":{"field":"x","type":"ordinal","title":null,"scale":{"domain":[1,2,3,4,5,6,7,8,9,10,11,12],"paddingInner":0,"paddingOuter":0},"axis":{"orient":"top","offset":-35,"labelExpr":"'Z' + ((datum.value - 1) % 3 + 1)"}}}},
{"mark":{"type":"area","color":"#cccccc"},"encoding":{"x":{"field":"x","type":"ordinal","title":null,"scale":{"domain":[1,2,3,4,5,6,7,8,9,10,11,12]}},"y":{"field":"lo","type":"quantitative","title":null,"scale":{"domain":[-12.7,47],"nice":false,"zero":false},"axis":{"values":[-10,0,10,20,30,40]}},"y2":{"field":"hi"}}},
{"transform":[{"fold":["g1","g2","g3","g4","g5","g6"]}],"mark":{"type":"line","color":"#bdbdbd","strokeWidth":0.7,"clip":true},"encoding":{"x":{"field":"x","type":"ordinal","title":null,"scale":{"domain":[1,2,3,4,5,6,7,8,9,10,11,12]}},"y":{"field":"value","type":"quantitative","title":null},"detail":{"field":"key","type":"nominal"}}},
{"mark":{"type":"line","color":"#7b1c3c","strokeWidth":2.2,"clip":true},"encoding":{"x":{"field":"x","type":"ordinal","title":null,"scale":{"domain":[1,2,3,4,5,6,7,8,9,10,11,12]}},"y":{"field":"m","type":"quantitative","title":null}}},
{"data":{"name":"grp"},"mark":{"type":"text","fontSize":7.5,"color":"#1a1a1a"},"encoding":{"x":{"field":"c2","type":"ordinal","title":null,"scale":{"domain":[1,2,3,4,5,6,7,8,9,10,11,12]}},"y":{"datum":44.29},"text":{"field":"g"}}},
{"data":{"name":"grp"},"mark":{"type":"rule","strokeWidth":1.6,"color":"#000000"},"encoding":{"x":{"field":"c1","type":"ordinal","title":null,"scale":{"domain":[1,2,3,4,5,6,7,8,9,10,11,12]}},"x2":{"field":"c3"},"y":{"datum":41.35}}},
{"data":{"values":[{"t":"plum"}]},"mark":{"type":"text","fontSize":10.5,"align":"right","baseline":"alphabetic","dy":-8},"encoding":{"x":{"datum":12,"type":"ordinal","scale":{"domain":[1,2,3,4,5,6,7,8,9,10,11,12]}},"y":{"datum":-12.7},"text":{"field":"t"}}},
{"data":{"values":[{"t":"Acquired resistance; endopeptidase;|response to oxidative stress (171) *"}]},"mark":{"type":"square","opacity":0},"encoding":{"fill":{"field":"t","type":"nominal","scale":{"range":["#c493c4"]},"legend":{"title":"E","labelExpr":"split(datum.label, '|')","symbolOpacity":1,"symbolStrokeColor":"#333333","symbolStrokeWidth":1.2,"legendX":-26.5,"legendY":-43}}}}
]},
{"width":210,"height":188,"data":{"name":"F"},"layer":[
{"data":{"name":"stripes"},"mark":{"type":"rect","color":"#eef0f3"},"encoding":{"x":{"field":"x","type":"ordinal","title":null,"scale":{"domain":[1,2,3,4,5,6,7,8,9,10,11,12],"paddingInner":0,"paddingOuter":0},"axis":{"orient":"top","offset":-35,"labelExpr":"'Z' + ((datum.value - 1) % 3 + 1)"}}}},
{"mark":{"type":"area","color":"#cccccc"},"encoding":{"x":{"field":"x","type":"ordinal","title":null,"scale":{"domain":[1,2,3,4,5,6,7,8,9,10,11,12]}},"y":{"field":"lo","type":"quantitative","title":null,"scale":{"domain":[-2.27,3.9],"nice":false,"zero":false},"axis":{"values":[-2,0,2]}},"y2":{"field":"hi"}}},
{"transform":[{"fold":["g1","g2","g3","g4","g5","g6"]}],"mark":{"type":"line","color":"#bdbdbd","strokeWidth":0.7,"clip":true},"encoding":{"x":{"field":"x","type":"ordinal","title":null,"scale":{"domain":[1,2,3,4,5,6,7,8,9,10,11,12]}},"y":{"field":"value","type":"quantitative","title":null},"detail":{"field":"key","type":"nominal"}}},
{"mark":{"type":"line","color":"#7b1c3c","strokeWidth":2.2,"clip":true},"encoding":{"x":{"field":"x","type":"ordinal","title":null,"scale":{"domain":[1,2,3,4,5,6,7,8,9,10,11,12]}},"y":{"field":"m","type":"quantitative","title":null}}},
{"data":{"name":"grp"},"mark":{"type":"text","fontSize":7.5,"color":"#1a1a1a"},"encoding":{"x":{"field":"c2","type":"ordinal","title":null,"scale":{"domain":[1,2,3,4,5,6,7,8,9,10,11,12]}},"y":{"datum":3.62},"text":{"field":"g"}}},
{"data":{"name":"grp"},"mark":{"type":"rule","strokeWidth":1.6,"color":"#000000"},"encoding":{"x":{"field":"c1","type":"ordinal","title":null,"scale":{"domain":[1,2,3,4,5,6,7,8,9,10,11,12]}},"x2":{"field":"c3"},"y":{"datum":3.316}}},
{"data":{"values":[{"t":"saddle-brown"}]},"mark":{"type":"text","fontSize":10.5,"align":"right","baseline":"alphabetic","dy":-8},"encoding":{"x":{"datum":12,"type":"ordinal","scale":{"domain":[1,2,3,4,5,6,7,8,9,10,11,12]}},"y":{"datum":-2.27},"text":{"field":"t"}}},
{"data":{"values":[{"t":"Tetrahydrofolate-, folic acid-, and|pteridine-metabolism (57)"}]},"mark":{"type":"square","opacity":0},"encoding":{"fill":{"field":"t","type":"nominal","scale":{"range":["#6f3b1d"]},"legend":{"title":"F","labelExpr":"split(datum.label, '|')","symbolOpacity":1,"symbolStrokeColor":"#333333","symbolStrokeWidth":1.2,"legendX":-26.5,"legendY":-43}}}}
]},
{"width":210,"height":188,"data":{"name":"G"},"layer":[
{"data":{"name":"stripes"},"mark":{"type":"rect","color":"#eef0f3"},"encoding":{"x":{"field":"x","type":"ordinal","title":null,"scale":{"domain":[1,2,3,4,5,6,7,8,9,10,11,12],"paddingInner":0,"paddingOuter":0},"axis":{"orient":"top","offset":-35,"labelExpr":"'Z' + ((datum.value - 1) % 3 + 1)"}}}},
{"mark":{"type":"area","color":"#cccccc"},"encoding":{"x":{"field":"x","type":"ordinal","title":null,"scale":{"domain":[1,2,3,4,5,6,7,8,9,10,11,12]}},"y":{"field":"lo","type":"quantitative","title":null,"scale":{"domain":[-2.55,9.66],"nice":false,"zero":false},"axis":{"values":[-2.5,0,2.5,5,7.5],"format":".1f"}},"y2":{"field":"hi"}}},
{"transform":[{"fold":["g1","g2","g3","g4","g5","g6","g7"]}],"mark":{"type":"line","color":"#bdbdbd","strokeWidth":0.7,"clip":true},"encoding":{"x":{"field":"x","type":"ordinal","title":null,"scale":{"domain":[1,2,3,4,5,6,7,8,9,10,11,12]}},"y":{"field":"value","type":"quantitative","title":null},"detail":{"field":"key","type":"nominal"}}},
{"mark":{"type":"line","color":"#7b1c3c","strokeWidth":2.2,"clip":true},"encoding":{"x":{"field":"x","type":"ordinal","title":null,"scale":{"domain":[1,2,3,4,5,6,7,8,9,10,11,12]}},"y":{"field":"m","type":"quantitative","title":null}}},
{"data":{"name":"grp"},"mark":{"type":"text","fontSize":7.5,"color":"#1a1a1a"},"encoding":{"x":{"field":"c2","type":"ordinal","title":null,"scale":{"domain":[1,2,3,4,5,6,7,8,9,10,11,12]}},"y":{"datum":9.105},"text":{"field":"g"}}},
{"data":{"name":"grp"},"mark":{"type":"rule","strokeWidth":1.6,"color":"#000000"},"encoding":{"x":{"field":"c1","type":"ordinal","title":null,"scale":{"domain":[1,2,3,4,5,6,7,8,9,10,11,12]}},"x2":{"field":"c3"},"y":{"datum":8.504}}},
{"data":{"values":[{"t":"violet"}]},"mark":{"type":"text","fontSize":10.5,"align":"right","baseline":"alphabetic","dy":-8},"encoding":{"x":{"datum":12,"type":"ordinal","scale":{"domain":[1,2,3,4,5,6,7,8,9,10,11,12]}},"y":{"datum":-2.55},"text":{"field":"t"}}},
{"data":{"values":[{"t":"Lipid catabolism; phenylpropanoid|biosynthesis; wall modification (167) *"}]},"mark":{"type":"square","opacity":0},"encoding":{"fill":{"field":"t","type":"nominal","scale":{"range":["#a65fa6"]},"legend":{"title":"G","labelExpr":"split(datum.label, '|')","symbolOpacity":1,"symbolStrokeColor":"#333333","symbolStrokeWidth":1.2,"legendX":-26.5,"legendY":-43}}}}
]},
{"width":210,"height":188,"data":{"name":"H"},"layer":[
{"data":{"name":"stripes"},"mark":{"type":"rect","color":"#eef0f3"},"encoding":{"x":{"field":"x","type":"ordinal","title":null,"scale":{"domain":[1,2,3,4,5,6,7,8,9,10,11,12],"paddingInner":0,"paddingOuter":0},"axis":{"orient":"top","offset":-35,"labelExpr":"'Z' + ((datum.value - 1) % 3 + 1)"}}}},
{"mark":{"type":"area","color":"#cccccc"},"encoding":{"x":{"field":"x","type":"ordinal","title":null,"scale":{"domain":[1,2,3,4,5,6,7,8,9,10,11,12]}},"y":{"field":"lo","type":"quantitative","title":null,"scale":{"domain":[-14.6,45.7],"nice":false,"zero":false},"axis":{"values":[0,20,40]}},"y2":{"field":"hi"}}},
{"transform":[{"fold":["g1","g2","g3","g4","g5","g6"]}],"mark":{"type":"line","color":"#bdbdbd","strokeWidth":0.7,"clip":true},"encoding":{"x":{"field":"x","type":"ordinal","title":null,"scale":{"domain":[1,2,3,4,5,6,7,8,9,10,11,12]}},"y":{"field":"value","type":"quantitative","title":null},"detail":{"field":"key","type":"nominal"}}},
{"mark":{"type":"line","color":"#7b1c3c","strokeWidth":2.2,"clip":true},"encoding":{"x":{"field":"x","type":"ordinal","title":null,"scale":{"domain":[1,2,3,4,5,6,7,8,9,10,11,12]}},"y":{"field":"m","type":"quantitative","title":null}}},
{"data":{"name":"grp"},"mark":{"type":"text","fontSize":7.5,"color":"#1a1a1a"},"encoding":{"x":{"field":"c2","type":"ordinal","title":null,"scale":{"domain":[1,2,3,4,5,6,7,8,9,10,11,12]}},"y":{"datum":42.96},"text":{"field":"g"}}},
{"data":{"name":"grp"},"mark":{"type":"rule","strokeWidth":1.6,"color":"#000000"},"encoding":{"x":{"field":"c1","type":"ordinal","title":null,"scale":{"domain":[1,2,3,4,5,6,7,8,9,10,11,12]}},"x2":{"field":"c3"},"y":{"datum":39.99}}},
{"data":{"values":[{"t":"pale turquoise"}]},"mark":{"type":"text","fontSize":10.5,"align":"right","baseline":"alphabetic","dy":-8},"encoding":{"x":{"datum":12,"type":"ordinal","scale":{"domain":[1,2,3,4,5,6,7,8,9,10,11,12]}},"y":{"datum":-14.6},"text":{"field":"t"}}},
{"data":{"values":[{"t":"Sterol biosynthesis; cell divison|(56) *"}]},"mark":{"type":"square","opacity":0},"encoding":{"fill":{"field":"t","type":"nominal","scale":{"range":["#b6dfe2"]},"legend":{"title":"H","labelExpr":"split(datum.label, '|')","symbolOpacity":1,"symbolStrokeColor":"#333333","symbolStrokeWidth":1.2,"legendX":-26.5,"legendY":-43}}}}
]},
{"width":210,"height":188,"data":{"name":"I"},"layer":[
{"data":{"name":"stripes"},"mark":{"type":"rect","color":"#eef0f3"},"encoding":{"x":{"field":"x","type":"ordinal","title":null,"scale":{"domain":[1,2,3,4,5,6,7,8,9,10,11,12],"paddingInner":0,"paddingOuter":0},"axis":{"orient":"top","offset":-35,"labelExpr":"'Z' + ((datum.value - 1) % 3 + 1)"}}}},
{"mark":{"type":"area","color":"#cccccc"},"encoding":{"x":{"field":"x","type":"ordinal","title":null,"scale":{"domain":[1,2,3,4,5,6,7,8,9,10,11,12]}},"y":{"field":"lo","type":"quantitative","title":null,"scale":{"domain":[-2.93,5.93],"nice":false,"zero":false},"axis":{"values":[-2,0,2,4]}},"y2":{"field":"hi"}}},
{"transform":[{"fold":["g1","g2","g3","g4","g5","g6"]}],"mark":{"type":"line","color":"#bdbdbd","strokeWidth":0.7,"clip":true},"encoding":{"x":{"field":"x","type":"ordinal","title":null,"scale":{"domain":[1,2,3,4,5,6,7,8,9,10,11,12]}},"y":{"field":"value","type":"quantitative","title":null},"detail":{"field":"key","type":"nominal"}}},
{"mark":{"type":"line","color":"#7b1c3c","strokeWidth":2.2,"clip":true},"encoding":{"x":{"field":"x","type":"ordinal","title":null,"scale":{"domain":[1,2,3,4,5,6,7,8,9,10,11,12]}},"y":{"field":"m","type":"quantitative","title":null}}},
{"data":{"name":"grp"},"mark":{"type":"text","fontSize":7.5,"color":"#1a1a1a"},"encoding":{"x":{"field":"c2","type":"ordinal","title":null,"scale":{"domain":[1,2,3,4,5,6,7,8,9,10,11,12]}},"y":{"datum":5.527},"text":{"field":"g"}}},
{"data":{"name":"grp"},"mark":{"type":"rule","strokeWidth":1.6,"color":"#000000"},"encoding":{"x":{"field":"c1","type":"ordinal","title":null,"scale":{"domain":[1,2,3,4,5,6,7,8,9,10,11,12]}},"x2":{"field":"c3"},"y":{"datum":5.091}}},
{"data":{"values":[{"t":"sky-blue"}]},"mark":{"type":"text","fontSize":10.5,"align":"right","baseline":"alphabetic","dy":-8},"encoding":{"x":{"datum":12,"type":"ordinal","scale":{"domain":[1,2,3,4,5,6,7,8,9,10,11,12]}},"y":{"datum":-2.93},"text":{"field":"t"}}},
{"data":{"values":[{"t":"Tryptophan-, fatty acid-metabolism;|ABA-, SOS-signalling (77) *"}]},"mark":{"type":"square","opacity":0},"encoding":{"fill":{"field":"t","type":"nominal","scale":{"range":["#5a9bd8"]},"legend":{"title":"I","labelExpr":"split(datum.label, '|')","symbolOpacity":1,"symbolStrokeColor":"#333333","symbolStrokeWidth":1.2,"legendX":-26.5,"legendY":-43}}}}
]},
{"width":210,"height":188,"data":{"name":"J"},"layer":[
{"data":{"name":"stripes"},"mark":{"type":"rect","color":"#eef0f3"},"encoding":{"x":{"field":"x","type":"ordinal","title":null,"scale":{"domain":[1,2,3,4,5,6,7,8,9,10,11,12],"paddingInner":0,"paddingOuter":0},"axis":{"orient":"top","offset":-35,"labelExpr":"'Z' + ((datum.value - 1) % 3 + 1)"}}}},
{"mark":{"type":"area","color":"#cccccc"},"encoding":{"x":{"field":"x","type":"ordinal","title":null,"scale":{"domain":[1,2,3,4,5,6,7,8,9,10,11,12]}},"y":{"field":"lo","type":"quantitative","title":null,"scale":{"domain":[-3.02,9.6],"nice":false,"zero":false},"axis":{"values":[-3,0,3,6,9]}},"y2":{"field":"hi"}}},
{"transform":[{"fold":["g1","g2","g3","g4","g5","g6"]}],"mark":{"type":"line","color":"#bdbdbd","strokeWidth":0.7,"clip":true},"encoding":{"x":{"field":"x","type":"ordinal","title":null,"scale":{"domain":[1,2,3,4,5,6,7,8,9,10,11,12]}},"y":{"field":"value","type":"quantitative","title":null},"detail":{"field":"key","type":"nominal"}}},
{"mark":{"type":"line","color":"#7b1c3c","strokeWidth":2.2,"clip":true},"encoding":{"x":{"field":"x","type":"ordinal","title":null,"scale":{"domain":[1,2,3,4,5,6,7,8,9,10,11,12]}},"y":{"field":"m","type":"quantitative","title":null}}},
{"data":{"name":"grp"},"mark":{"type":"text","fontSize":7.5,"color":"#1a1a1a"},"encoding":{"x":{"field":"c2","type":"ordinal","title":null,"scale":{"domain":[1,2,3,4,5,6,7,8,9,10,11,12]}},"y":{"datum":9.027},"text":{"field":"g"}}},
{"data":{"name":"grp"},"mark":{"type":"rule","strokeWidth":1.6,"color":"#000000"},"encoding":{"x":{"field":"c1","type":"ordinal","title":null,"scale":{"domain":[1,2,3,4,5,6,7,8,9,10,11,12]}},"x2":{"field":"c3"},"y":{"datum":8.407}}},
{"data":{"values":[{"t":"black"}]},"mark":{"type":"text","fontSize":10.5,"align":"right","baseline":"alphabetic","dy":-8},"encoding":{"x":{"datum":12,"type":"ordinal","scale":{"domain":[1,2,3,4,5,6,7,8,9,10,11,12]}},"y":{"datum":-3.02},"text":{"field":"t"}}},
{"data":{"values":[{"t":"Response to stimulus; amino acid|metabolism; wall organization (173)"}]},"mark":{"type":"square","opacity":0},"encoding":{"fill":{"field":"t","type":"nominal","scale":{"range":["#0d0d0d"]},"legend":{"title":"J","labelExpr":"split(datum.label, '|')","symbolOpacity":1,"symbolStrokeColor":"#333333","symbolStrokeWidth":1.2,"legendX":-26.5,"legendY":-43}}}}
]},
{"width":210,"height":188,"data":{"name":"K"},"layer":[
{"data":{"name":"stripes"},"mark":{"type":"rect","color":"#eef0f3"},"encoding":{"x":{"field":"x","type":"ordinal","title":null,"scale":{"domain":[1,2,3,4,5,6,7,8,9,10,11,12],"paddingInner":0,"paddingOuter":0},"axis":{"orient":"top","offset":-35,"labelExpr":"'Z' + ((datum.value - 1) % 3 + 1)"}}}},
{"mark":{"type":"area","color":"#cccccc"},"encoding":{"x":{"field":"x","type":"ordinal","title":null,"scale":{"domain":[1,2,3,4,5,6,7,8,9,10,11,12]}},"y":{"field":"lo","type":"quantitative","title":null,"scale":{"domain":[-4.17,10.8],"nice":false,"zero":false},"axis":{"values":[0,5,10]}},"y2":{"field":"hi"}}},
{"transform":[{"fold":["g1","g2","g3","g4","g5","g6"]}],"mark":{"type":"line","color":"#bdbdbd","strokeWidth":0.7,"clip":true},"encoding":{"x":{"field":"x","type":"ordinal","title":null,"scale":{"domain":[1,2,3,4,5,6,7,8,9,10,11,12]}},"y":{"field":"value","type":"quantitative","title":null},"detail":{"field":"key","type":"nominal"}}},
{"mark":{"type":"line","color":"#7b1c3c","strokeWidth":2.2,"clip":true},"encoding":{"x":{"field":"x","type":"ordinal","title":null,"scale":{"domain":[1,2,3,4,5,6,7,8,9,10,11,12]}},"y":{"field":"m","type":"quantitative","title":null}}},
{"data":{"name":"grp"},"mark":{"type":"text","fontSize":7.5,"color":"#1a1a1a"},"encoding":{"x":{"field":"c2","type":"ordinal","title":null,"scale":{"domain":[1,2,3,4,5,6,7,8,9,10,11,12]}},"y":{"datum":10.12},"text":{"field":"g"}}},
{"data":{"name":"grp"},"mark":{"type":"rule","strokeWidth":1.6,"color":"#000000"},"encoding":{"x":{"field":"c1","type":"ordinal","title":null,"scale":{"domain":[1,2,3,4,5,6,7,8,9,10,11,12]}},"x2":{"field":"c3"},"y":{"datum":9.383}}},
{"data":{"values":[{"t":"purple"}]},"mark":{"type":"text","fontSize":10.5,"align":"right","baseline":"alphabetic","dy":-8},"encoding":{"x":{"datum":12,"type":"ordinal","scale":{"domain":[1,2,3,4,5,6,7,8,9,10,11,12]}},"y":{"datum":-4.17},"text":{"field":"t"}}},
{"data":{"values":[{"t":"Amino acid transport; protein ubi-|quitination; toxin catabolism (124) *"}]},"mark":{"type":"square","opacity":0},"encoding":{"fill":{"field":"t","type":"nominal","scale":{"range":["#5e1a6e"]},"legend":{"title":"K","labelExpr":"split(datum.label, '|')","symbolOpacity":1,"symbolStrokeColor":"#333333","symbolStrokeWidth":1.2,"legendX":-26.5,"legendY":-43}}}}
]},
{"width":210,"height":188,"data":{"name":"L"},"layer":[
{"data":{"name":"stripes"},"mark":{"type":"rect","color":"#eef0f3"},"encoding":{"x":{"field":"x","type":"ordinal","title":null,"scale":{"domain":[1,2,3,4,5,6,7,8,9,10,11,12],"paddingInner":0,"paddingOuter":0},"axis":{"orient":"top","offset":-35,"labelExpr":"'Z' + ((datum.value - 1) % 3 + 1)"}}}},
{"mark":{"type":"area","color":"#cccccc"},"encoding":{"x":{"field":"x","type":"ordinal","title":null,"scale":{"domain":[1,2,3,4,5,6,7,8,9,10,11,12]}},"y":{"field":"lo","type":"quantitative","title":null,"scale":{"domain":[-3.1,8.7],"nice":false,"zero":false},"axis":{"values":[-3,0,3,6]}},"y2":{"field":"hi"}}},
{"transform":[{"fold":["g1","g2","g3","g4","g5","g6"]}],"mark":{"type":"line","color":"#bdbdbd","strokeWidth":0.7,"clip":true},"encoding":{"x":{"field":"x","type":"ordinal","title":null,"scale":{"domain":[1,2,3,4,5,6,7,8,9,10,11,12]}},"y":{"field":"value","type":"quantitative","title":null},"detail":{"field":"key","type":"nominal"}}},
{"mark":{"type":"line","color":"#7b1c3c","strokeWidth":2.2,"clip":true},"encoding":{"x":{"field":"x","type":"ordinal","title":null,"scale":{"domain":[1,2,3,4,5,6,7,8,9,10,11,12]}},"y":{"field":"m","type":"quantitative","title":null}}},
{"data":{"name":"grp"},"mark":{"type":"text","fontSize":7.5,"color":"#1a1a1a"},"encoding":{"x":{"field":"c2","type":"ordinal","title":null,"scale":{"domain":[1,2,3,4,5,6,7,8,9,10,11,12]}},"y":{"datum":8.164},"text":{"field":"g"}}},
{"data":{"name":"grp"},"mark":{"type":"rule","strokeWidth":1.6,"color":"#000000"},"encoding":{"x":{"field":"c1","type":"ordinal","title":null,"scale":{"domain":[1,2,3,4,5,6,7,8,9,10,11,12]}},"x2":{"field":"c3"},"y":{"datum":7.583}}},
{"data":{"values":[{"t":"red"}]},"mark":{"type":"text","fontSize":10.5,"align":"right","baseline":"alphabetic","dy":-8},"encoding":{"x":{"datum":12,"type":"ordinal","scale":{"domain":[1,2,3,4,5,6,7,8,9,10,11,12]}},"y":{"datum":-3.1},"text":{"field":"t"}}},
{"data":{"values":[{"t":"Cell wall loosening; auxin homeo-|statsis (222)"}]},"mark":{"type":"square","opacity":0},"encoding":{"fill":{"field":"t","type":"nominal","scale":{"range":["#c4262b"]},"legend":{"title":"L","labelExpr":"split(datum.label, '|')","symbolOpacity":1,"symbolStrokeColor":"#333333","symbolStrokeWidth":1.2,"legendX":-26.5,"legendY":-43}}}}
]},
{"width":210,"height":188,"data":{"name":"M"},"layer":[
{"data":{"name":"stripes"},"mark":{"type":"rect","color":"#eef0f3"},"encoding":{"x":{"field":"x","type":"ordinal","title":null,"scale":{"domain":[1,2,3,4,5,6,7,8,9,10,11,12],"paddingInner":0,"paddingOuter":0},"axis":{"orient":"top","offset":-35,"labelExpr":"'Z' + ((datum.value - 1) % 3 + 1)"}}}},
{"mark":{"type":"area","color":"#cccccc"},"encoding":{"x":{"field":"x","type":"ordinal","title":null,"scale":{"domain":[1,2,3,4,5,6,7,8,9,10,11,12]}},"y":{"field":"lo","type":"quantitative","title":null,"scale":{"domain":[-1.78,4.27],"nice":false,"zero":false},"axis":{"values":[0,2,4]}},"y2":{"field":"hi"}}},
{"transform":[{"fold":["g1","g2","g3","g4","g5"]}],"mark":{"type":"line","color":"#bdbdbd","strokeWidth":0.7,"clip":true},"encoding":{"x":{"field":"x","type":"ordinal","title":null,"scale":{"domain":[1,2,3,4,5,6,7,8,9,10,11,12]}},"y":{"field":"value","type":"quantitative","title":null},"detail":{"field":"key","type":"nominal"}}},
{"mark":{"type":"line","color":"#7b1c3c","strokeWidth":2.2,"clip":true},"encoding":{"x":{"field":"x","type":"ordinal","title":null,"scale":{"domain":[1,2,3,4,5,6,7,8,9,10,11,12]}},"y":{"field":"m","type":"quantitative","title":null}}},
{"data":{"name":"grp"},"mark":{"type":"text","fontSize":7.5,"color":"#1a1a1a"},"encoding":{"x":{"field":"c2","type":"ordinal","title":null,"scale":{"domain":[1,2,3,4,5,6,7,8,9,10,11,12]}},"y":{"datum":3.995},"text":{"field":"g"}}},
{"data":{"name":"grp"},"mark":{"type":"rule","strokeWidth":1.6,"color":"#000000"},"encoding":{"x":{"field":"c1","type":"ordinal","title":null,"scale":{"domain":[1,2,3,4,5,6,7,8,9,10,11,12]}},"x2":{"field":"c3"},"y":{"datum":3.697}}},
{"data":{"values":[{"t":"pink"}]},"mark":{"type":"text","fontSize":10.5,"align":"right","baseline":"alphabetic","dy":-8},"encoding":{"x":{"datum":12,"type":"ordinal","scale":{"domain":[1,2,3,4,5,6,7,8,9,10,11,12]}},"y":{"datum":-1.78},"text":{"field":"t"}}},
{"data":{"values":[{"t":"Lipid localization; cell wall loosening;|proteolysis, receptor recycling (136)"}]},"mark":{"type":"square","opacity":0},"encoding":{"fill":{"field":"t","type":"nominal","scale":{"range":["#f1b8c4"]},"legend":{"title":"M","labelExpr":"split(datum.label, '|')","symbolOpacity":1,"symbolStrokeColor":"#333333","symbolStrokeWidth":1.2,"legendX":-26.5,"legendY":-43}}}}
]},
{"width":210,"height":188,"data":{"name":"N"},"layer":[
{"data":{"name":"stripes"},"mark":{"type":"rect","color":"#eef0f3"},"encoding":{"x":{"field":"x","type":"ordinal","title":null,"scale":{"domain":[1,2,3,4,5,6,7,8,9,10,11,12],"paddingInner":0,"paddingOuter":0},"axis":{"orient":"top","offset":-35,"labelExpr":"'Z' + ((datum.value - 1) % 3 + 1)"}}}},
{"mark":{"type":"area","color":"#cccccc"},"encoding":{"x":{"field":"x","type":"ordinal","title":null,"scale":{"domain":[1,2,3,4,5,6,7,8,9,10,11,12]}},"y":{"field":"lo","type":"quantitative","title":null,"scale":{"domain":[-17.2,29.2],"nice":false,"zero":false},"axis":{"values":[-10,0,10,20]}},"y2":{"field":"hi"}}},
{"transform":[{"fold":["g1","g2","g3","g4","g5","g6"]}],"mark":{"type":"line","color":"#bdbdbd","strokeWidth":0.7,"clip":true},"encoding":{"x":{"field":"x","type":"ordinal","title":null,"scale":{"domain":[1,2,3,4,5,6,7,8,9,10,11,12]}},"y":{"field":"value","type":"quantitative","title":null},"detail":{"field":"key","type":"nominal"}}},
{"mark":{"type":"line","color":"#7b1c3c","strokeWidth":2,"strokeDash":[4,2.5],"clip":true},"encoding":{"x":{"field":"x","type":"ordinal","title":null,"scale":{"domain":[1,2,3,4,5,6,7,8,9,10,11,12]}},"y":{"field":"d","type":"quantitative","title":null}}},
{"mark":{"type":"line","color":"#7b1c3c","strokeWidth":2.2,"clip":true},"encoding":{"x":{"field":"x","type":"ordinal","title":null,"scale":{"domain":[1,2,3,4,5,6,7,8,9,10,11,12]}},"y":{"field":"m","type":"quantitative","title":null}}},
{"data":{"name":"grp"},"mark":{"type":"text","fontSize":7.5,"color":"#1a1a1a"},"encoding":{"x":{"field":"c2","type":"ordinal","title":null,"scale":{"domain":[1,2,3,4,5,6,7,8,9,10,11,12]}},"y":{"datum":27.09},"text":{"field":"g"}}},
{"data":{"name":"grp"},"mark":{"type":"rule","strokeWidth":1.6,"color":"#000000"},"encoding":{"x":{"field":"c1","type":"ordinal","title":null,"scale":{"domain":[1,2,3,4,5,6,7,8,9,10,11,12]}},"x2":{"field":"c3"},"y":{"datum":24.81}}},
{"data":{"values":[{"t":"magenta"}]},"mark":{"type":"text","fontSize":10.5,"align":"right","baseline":"alphabetic","dy":-8},"encoding":{"x":{"datum":12,"type":"ordinal","scale":{"domain":[1,2,3,4,5,6,7,8,9,10,11,12]}},"y":{"datum":-17.2},"text":{"field":"t"}}},
{"data":{"values":[{"t":"Lipid storage and catabolism; cell|wall loosening (184)"}]},"mark":{"type":"square","opacity":0},"encoding":{"fill":{"field":"t","type":"nominal","scale":{"range":["#8e2b8e"]},"legend":{"title":"N","labelExpr":"split(datum.label, '|')","symbolOpacity":1,"symbolStrokeColor":"#333333","symbolStrokeWidth":1.2,"legendX":-26.5,"legendY":-43}}}}
]},
{"width":210,"height":188,"data":{"name":"O"},"layer":[
{"data":{"name":"stripes"},"mark":{"type":"rect","color":"#eef0f3"},"encoding":{"x":{"field":"x","type":"ordinal","title":null,"scale":{"domain":[1,2,3,4,5,6,7,8,9,10,11,12],"paddingInner":0,"paddingOuter":0},"axis":{"orient":"top","offset":-35,"labelExpr":"'Z' + ((datum.value - 1) % 3 + 1)"}}}},
{"mark":{"type":"area","color":"#cccccc"},"encoding":{"x":{"field":"x","type":"ordinal","title":null,"scale":{"domain":[1,2,3,4,5,6,7,8,9,10,11,12]}},"y":{"field":"lo","type":"quantitative","title":null,"scale":{"domain":[-20,75.3],"nice":false,"zero":false},"axis":{"values":[0,25,50]}},"y2":{"field":"hi"}}},
{"transform":[{"fold":["g1","g2","g3","g4","g5","g6"]}],"mark":{"type":"line","color":"#bdbdbd","strokeWidth":0.7,"clip":true},"encoding":{"x":{"field":"x","type":"ordinal","title":null,"scale":{"domain":[1,2,3,4,5,6,7,8,9,10,11,12]}},"y":{"field":"value","type":"quantitative","title":null},"detail":{"field":"key","type":"nominal"}}},
{"mark":{"type":"line","color":"#7b1c3c","strokeWidth":2.2,"clip":true},"encoding":{"x":{"field":"x","type":"ordinal","title":null,"scale":{"domain":[1,2,3,4,5,6,7,8,9,10,11,12]}},"y":{"field":"m","type":"quantitative","title":null}}},
{"data":{"name":"grp"},"mark":{"type":"text","fontSize":7.5,"color":"#1a1a1a"},"encoding":{"x":{"field":"c2","type":"ordinal","title":null,"scale":{"domain":[1,2,3,4,5,6,7,8,9,10,11,12]}},"y":{"datum":70.97},"text":{"field":"g"}}},
{"data":{"name":"grp"},"mark":{"type":"rule","strokeWidth":1.6,"color":"#000000"},"encoding":{"x":{"field":"c1","type":"ordinal","title":null,"scale":{"domain":[1,2,3,4,5,6,7,8,9,10,11,12]}},"x2":{"field":"c3"},"y":{"datum":66.28}}},
{"data":{"values":[{"t":"salmon"}]},"mark":{"type":"text","fontSize":10.5,"align":"right","baseline":"alphabetic","dy":-8},"encoding":{"x":{"datum":12,"type":"ordinal","scale":{"domain":[1,2,3,4,5,6,7,8,9,10,11,12]}},"y":{"datum":-20},"text":{"field":"t"}}},
{"data":{"values":[{"t":"Nicotianamine biosynthesis;|phleom transport (105)"}]},"mark":{"type":"square","opacity":0},"encoding":{"fill":{"field":"t","type":"nominal","scale":{"range":["#d5705e"]},"legend":{"title":"O","labelExpr":"split(datum.label, '|')","symbolOpacity":1,"symbolStrokeColor":"#333333","symbolStrokeWidth":1.2,"legendX":-26.5,"legendY":-43}}}}
]}
],
"config": {
"font": "Liberation Sans",
"view": {"stroke": "#a8a8a8", "strokeWidth": 1},
"axisY": {"labelFontSize": 7.5, "labelColor": "#4d4d4d", "tickColor": "#4d4d4d", "tickSize": 3, "tickWidth": 0.8, "domain": false, "grid": false, "labelPadding": 1.5},
"axisX": {"domain": false, "ticks": false, "grid": false, "labelFontSize": 8, "labelColor": "#1a1a1a", "labelPadding": 0, "labelAngle": 0},
"legend": {"orient": "none", "titleOrient": "left", "titleFontSize": 18.5, "titleFontWeight": "bold", "titleColor": "#000000", "titlePadding": 10, "symbolType": "square", "symbolSize": 190, "labelFontSize": 12, "labelColor": "#000000", "labelOffset": 13, "labelLimit": 400, "padding": 0, "labelFont": "Liberation Sans", "titleFont": "Liberation Sans"}
}
}
